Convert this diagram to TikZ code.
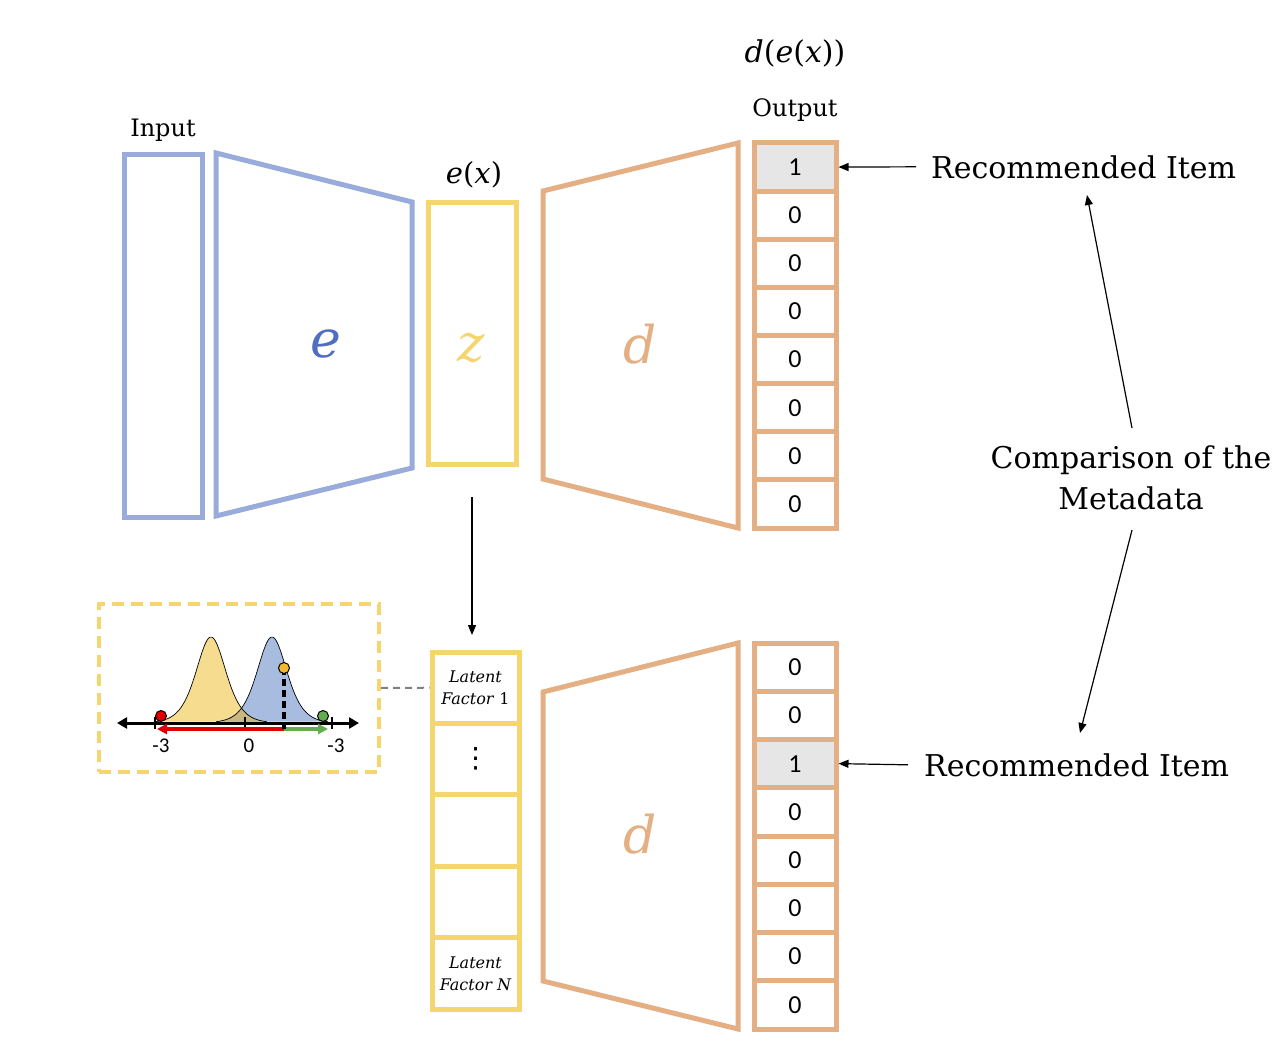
\documentclass[tikz,border=0pt]{standalone}
\usepackage{fontspec}
\setmainfont{DejaVu Serif}
\newfontfamily\calfont{Carlito}
\newfontfamily\djsans{DejaVu Sans}
\usetikzlibrary{arrows.meta}
\definecolor{blueline}{HTML}{98ABDA}
\definecolor{bluetext}{HTML}{4F6DC1}
\definecolor{yel}{HTML}{F5D56E}
\definecolor{org}{HTML}{E4AF82}
\definecolor{cellgray}{HTML}{E6E6E6}
\definecolor{gaussY}{HTML}{F5DC8E}
\definecolor{gaussB}{HTML}{A8BCE0}
\definecolor{gaussO}{HTML}{C8B77F}
\definecolor{redc}{HTML}{E00000}
\definecolor{greenc}{HTML}{62AE4E}
\definecolor{dotY}{HTML}{F2B92C}
\definecolor{dashgray}{HTML}{808080}
\begin{document}
\begin{tikzpicture}[x=1pt,y=-1pt,
  shapeline/.style={line width=5pt},
  cell/.style={draw=org, line width=5pt, minimum width=82pt, inner sep=0pt,
    font=\calfont\fontsize{26}{26}\selectfont},
  topcell/.style={cell, minimum height=48.125pt},
  botcell/.style={cell, minimum height=48.25pt},
  latcell/.style={draw=yel, line width=5pt, minimum width=87pt, minimum height=71.4pt,
    inner sep=0pt, align=center, font=\itshape\fontsize{16}{22}\selectfont},
  biglet/.style={font=\itshape\fontsize{52}{52}\selectfont, inner sep=0pt, anchor=base},
  lbl/.style={inner sep=0pt, anchor=base},
  thinarrow/.style={line width=1.2pt, -{Triangle[length=10pt,width=8pt]}},
  ticklbl/.style={font=\calfont\fontsize{21}{21}\selectfont, inner sep=0pt}
]
\useasboundingbox (0,0) rectangle (1287,1057);

% ---------- encoder part ----------
\node[draw=blueline, shapeline, minimum width=78pt, minimum height=363pt, inner sep=0pt]
  (input) at (163,335.5) {};
\node[lbl, font=\fontsize{24}{24}\selectfont] (inputlbl) at (163,136) {Input};

\draw[draw=blueline, shapeline] (216,153) -- (412,202) -- (412,468) -- (216,516) -- cycle;
\node[biglet, text=bluetext] (elet) at (326,357) {e};

\node[draw=yel, shapeline, minimum width=88pt, minimum height=262pt, inner sep=0pt]
  (z) at (472,333) {};
\node[biglet, text=yel] (zlet) at (471,361) {z};
\node[lbl, font=\fontsize{29}{29}\selectfont] (exlbl) at (474,183) {\textit{e}(\textit{x})};

% ---------- top decoder ----------
\draw[draw=org, shapeline] (543,191) -- (738,143) -- (738,528) -- (543,479) -- cycle;
\node[biglet, text=org] (dlet1) at (640,363) {d};

\node[topcell, fill=cellgray] (o1) at (795,167.06) {1};
\node[topcell] (o2) at (795,215.19) {0};
\node[topcell] (o3) at (795,263.31) {0};
\node[topcell] (o4) at (795,311.44) {0};
\node[topcell] (o5) at (795,359.56) {0};
\node[topcell] (o6) at (795,407.69) {0};
\node[topcell] (o7) at (795,455.81) {0};
\node[topcell] (o8) at (795,503.94) {0};
\node[lbl, font=\fontsize{24}{24}\selectfont] (outlbl) at (795,116) {Output};
\node[lbl, font=\fontsize{30}{30}\selectfont] (delbl) at (795,63) {\textit{d}(\textit{e}(\textit{x}))};

% ---------- bottom decoder ----------
\draw[draw=org, shapeline] (543,692) -- (738,643) -- (738,1029) -- (543,981) -- cycle;
\node[biglet, text=org] (dlet2) at (640,853) {d};

\node[botcell] (p1) at (795,667.13) {0};
\node[botcell] (p2) at (795,715.38) {0};
\node[botcell, fill=cellgray] (p3) at (795,763.63) {1};
\node[botcell] (p4) at (795,811.88) {0};
\node[botcell] (p5) at (795,860.13) {0};
\node[botcell] (p6) at (795,908.38) {0};
\node[botcell] (p7) at (795,956.63) {0};
\node[botcell] (p8) at (795,1004.88) {0};

% ---------- latent column ----------
\node[latcell] (l1) at (475.5,687.7) {Latent\\Factor \textup{1}};
\node[latcell, font=\djsans\fontsize{28}{28}\selectfont] (l2) at (475.5,759.1) {⋮};
\node[latcell] (l3) at (475.5,830.5) {};
\node[latcell] (l4) at (475.5,901.9) {};
\node[latcell] (l5) at (475.5,973.3) {Latent\\Factor N};

% ---------- inset ----------
\node[draw=yel, line width=4pt, dash pattern=on 12pt off 7pt, minimum width=280pt,
  minimum height=168pt, inner sep=0pt] (inset) at (239,688) {};

\fill[gaussY] plot[domain=155:267, samples=90, smooth] (\x,{723-86/(cosh((\x-211)/20)*cosh((\x-211)/20))}) -- cycle;
\fill[gaussB] plot[domain=216:328, samples=90, smooth] (\x,{723-86/(cosh((\x-272)/20)*cosh((\x-272)/20))}) -- cycle;
\begin{scope}
  \clip plot[domain=155:267, samples=90, smooth] (\x,{723-86/(cosh((\x-211)/20)*cosh((\x-211)/20))}) -- cycle;
  \fill[gaussO] plot[domain=216:328, samples=90, smooth] (\x,{723-86/(cosh((\x-272)/20)*cosh((\x-272)/20))}) -- cycle;
\end{scope}
\draw[line width=0.7pt] plot[domain=155:267, samples=90, smooth] (\x,{723-86/(cosh((\x-211)/20)*cosh((\x-211)/20))});
\draw[line width=0.7pt] plot[domain=216:328, samples=90, smooth] (\x,{723-86/(cosh((\x-272)/20)*cosh((\x-272)/20))});

\draw[line width=3pt, {Triangle[length=10pt,width=11pt]}-{Triangle[length=10pt,width=11pt]}] (117,723) -- (359,723);
\foreach \tx in {155,245,332} \draw[line width=2.5pt] (\tx,717) -- (\tx,729);

\draw[redc, line width=4pt, -{Triangle[length=10pt,width=10pt]}] (284,729) -- (157,729);
\draw[greenc, line width=4pt, -{Triangle[length=10pt,width=10pt]}] (284,729) -- (328,729);
\draw[line width=3.5pt, dash pattern=on 7pt off 4pt] (284,668) -- (284,729);

\filldraw[fill=redc, draw=black, line width=1pt] (161,716) circle (5.5pt);
\filldraw[fill=greenc, draw=black, line width=1pt] (323,716) circle (5.5pt);
\filldraw[fill=dotY, draw=black, line width=1pt] (284,668) circle (5.5pt);

\node[ticklbl] (tk1) at (161,746) {-3};
\node[ticklbl] (tk2) at (249,746) {0};
\node[ticklbl] (tk3) at (336,746) {-3};

% ---------- right labels ----------
\node[anchor=base west, inner xsep=15pt, inner ysep=0pt, font=\fontsize{30}{30}\selectfont]
  (rec1) at (916,178) {Recommended Item};
\node[anchor=base west, inner xsep=16pt, inner ysep=0pt, font=\fontsize{30}{30}\selectfont]
  (rec2) at (908,776) {Recommended Item};
\node[align=center, inner sep=0pt, font=\fontsize{30}{41}\selectfont]
  (cmp) at (1131,478) {Comparison of the\\Metadata};

\coordinate (cmpT) at (1132,428);
\coordinate (cmpB) at (1132,530);
\coordinate (recT) at (1087,195);
\coordinate (recB) at (1080,733);
\coordinate (za) at (472,497);
\coordinate (la) at (472,635);

% ---------- connectors ----------
\draw[thinarrow] (rec1.west) -- (o1.east);
\draw[thinarrow] (rec2.west) -- (p3.east);
\draw[thinarrow] (cmpT) -- (recT);
\draw[thinarrow] (cmpB) -- (recB);
\draw[thinarrow] (za) -- (la);
\draw[dashgray, line width=2pt, dash pattern=on 7pt off 5pt] (inset.east) -- (l1.west);
\end{tikzpicture}
\end{document}
